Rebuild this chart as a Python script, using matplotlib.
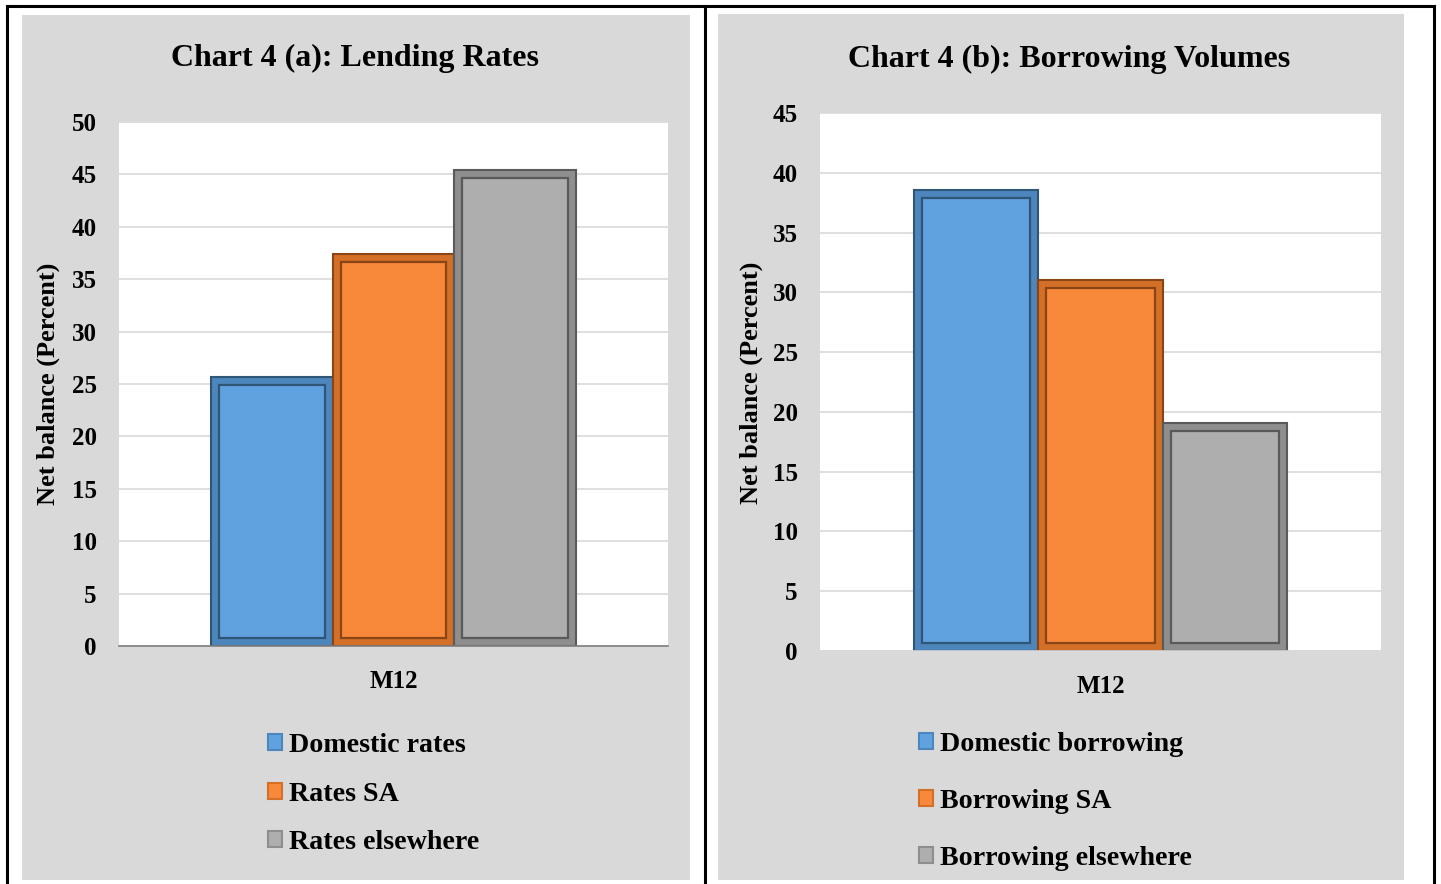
import matplotlib
matplotlib.use("Agg")
import matplotlib.pyplot as plt
from matplotlib.patches import Rectangle
from matplotlib.lines import Line2D

plt.rcParams['font.family'] = ['Liberation Serif', 'DejaVu Serif']
plt.rcParams['font.weight'] = 'bold'

# ---- data ----
category = ['M12']
left_title = 'Chart 4 (a): Lending Rates'
left_series = ['Domestic rates', 'Rates SA', 'Rates elsewhere']
left_values = [25.7, 37.4, 45.4]
left_yticks = [0, 5, 10, 15, 20, 25, 30, 35, 40, 45, 50]

right_title = 'Chart 4 (b): Borrowing Volumes'
right_series = ['Domestic borrowing', 'Borrowing SA', 'Borrowing elsewhere']
right_values = [38.6, 31.0, 19.1]
right_yticks = [0, 5, 10, 15, 20, 25, 30, 35, 40, 45]

ylabel = 'Net balance (Percent)'

face_colors = ['#60A2DF', '#F9893A', '#AEAEAE']
band_colors = ['#4D86BC', '#D46F27', '#8E8E8E']
edge_colors = ['#2F5577', '#8A4516', '#5A5A5A']

W, H = 1441, 884
fig = plt.figure(figsize=(W / 100, H / 100), dpi=100)
fig.patch.set_facecolor('white')

def fx(x):
    return x / W

def fy(y):
    return 1 - y / H

# gray panels
fig.patches.append(Rectangle((fx(22), fy(880)), fx(690) - fx(22), fy(15) - fy(880),
                             transform=fig.transFigure, facecolor='#D9D9D9', edgecolor='none', zorder=-5))
fig.patches.append(Rectangle((fx(718), fy(880)), fx(1404) - fx(718), fy(14) - fy(880),
                             transform=fig.transFigure, facecolor='#D9D9D9', edgecolor='none', zorder=-5))
# table borders
for (x0, y0, x1, y1) in [(6.5, 5.5, 1433.5, 5.5), (6.5, 5.5, 6.5, 884), (705, 5.5, 705, 884),
                         (1433.5, 5.5, 1433.5, 884)]:
    fig.lines.append(Line2D([fx(x0), fx(x1)], [fy(y0), fy(y1)], transform=fig.transFigure,
                            color='black', lw=2.2, zorder=-4))


def panel(rect_px, values, series, yticks, ymax, title, title_xy, ylabel_xy, legend_xy,
          legend_spacing, bottom_spine_color):
    x0, y0, x1, y1 = rect_px
    ax = fig.add_axes([fx(x0), fy(y1), fx(x1) - fx(x0), fy(y0) - fy(y1)])
    ax.set_facecolor('white')
    ax.set_ylim(0, ymax)
    ax.set_xlim(-2.255, 2.255)
    ax.set_yticks(yticks)
    ax.set_yticklabels([str(t) for t in yticks], fontsize=18, fontweight='bold')
    ax.set_xticks([0])
    ax.set_xticklabels(category, fontsize=18, fontweight='bold')
    ax.tick_params(axis='y', length=0, pad=16)
    ax.tick_params(axis='x', length=0, pad=17.6)
    ax.grid(axis='y', color='#D9D9D9', lw=1.2)
    ax.set_axisbelow(True)
    for s in ['top', 'right', 'left']:
        ax.spines[s].set_visible(False)
    ax.spines['bottom'].set_color(bottom_spine_color)
    ax.spines['bottom'].set_linewidth(1.2)

    px_w = (x1 - x0) / 4.51
    px_h = (y1 - y0) / ymax
    inset_px = 8
    dx = inset_px / px_w
    dy = inset_px / px_h
    handles = []
    for i, v in enumerate(values):
        pos = i - 1
        ax.bar(pos, v, width=1.0, color=band_colors[i], edgecolor=edge_colors[i],
               linewidth=1.5, zorder=2)
        ax.bar(pos, v - 2 * dy, bottom=dy, width=1.0 - 2 * dx, color=face_colors[i],
               edgecolor=edge_colors[i], linewidth=1.6, zorder=3)
        handles.append(Rectangle((0, 0), 1, 1, facecolor=face_colors[i],
                                 edgecolor=band_colors[i], lw=1.5))
    fig.text(fx(title_xy[0]), fy(title_xy[1]), title, fontsize=23, fontweight='bold',
             ha='center', va='center')
    fig.text(fx(ylabel_xy[0]), fy(ylabel_xy[1]), ylabel, fontsize=19, fontweight='bold',
             rotation=90, ha='center', va='center')
    ax.legend(handles, series, loc='upper left',
              bbox_to_anchor=(fx(legend_xy[0]), fy(legend_xy[1])),
              bbox_transform=fig.transFigure, frameon=False,
              prop={'family': ['Liberation Serif'], 'weight': 'bold', 'size': 20.2},
              handlelength=0.5, handleheight=0.5, handletextpad=0.25,
              labelspacing=legend_spacing, borderpad=0, borderaxespad=0)
    return ax


panel((119, 122, 668, 646), left_values, left_series, left_yticks, 50, left_title,
      (355, 58), (48, 384), (268, 733), 0.84, '#7F7F7F')
panel((820, 113, 1381, 651), right_values, right_series, right_yticks, 45, right_title,
      (1069, 59), (751, 383), (919, 732), 1.14, '#D9D9D9')

fig.savefig('out.png', dpi=100, facecolor='white')
